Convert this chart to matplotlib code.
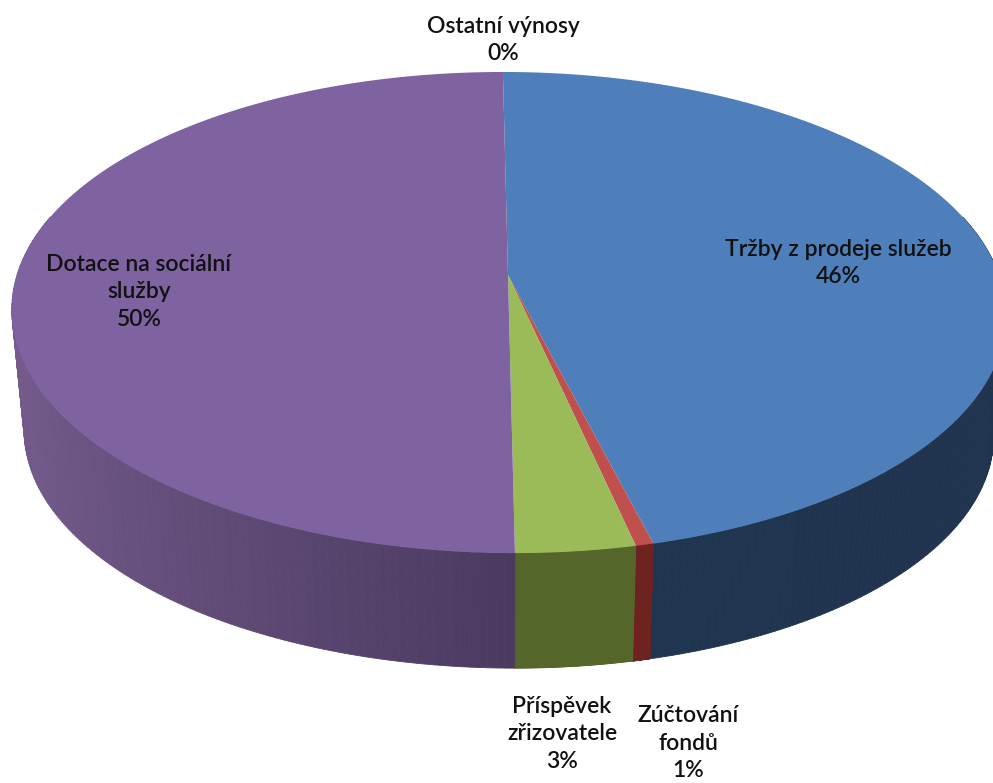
import numpy as np
import matplotlib
matplotlib.use("Agg")
import matplotlib.pyplot as plt
from matplotlib.colors import to_rgb

# values, clockwise from 12 o'clock
categories = ["Tržby z prodeje služeb", "Zúčtování\nfondů", "Příspěvek\nzřizovatele", "Dotace na sociální\nslužby", "Ostatní výnosy"]
values = [46.15, 0.5, 3.35, 50.0, 0.0]
pct_labels = ["46%", "1%", "3%", "50%", "0%"]
top_colors = ["#4f7fba", "#c0504d", "#9bbb59", "#7f62a0", "#4bacc6"]
side_far = ["#20344f", "#6e2320", "#56682c", "#745b8c", "#2b6a7a"]
side_near = ["#1f3550", "#6e2320", "#55662b", "#4a3a60", "#2b6a7a"]
label_xy = [(838, 263), (688, 743), (562, 734), (139, 292), (503, 40)]

# perspective of the tilted disc
cx, cy = 508, 275
k = 0.156
a = 234.7
b = 491
shear = 0.025
depth = 122
shrink = 0.975


def project(theta, scale=1.0, drop=0.0):
    # theta clockwise from the top, radians
    u = np.sin(theta)
    v = np.cos(theta)
    w = 1 + k * v
    y = -a * v / w * scale
    x = b * u / w * scale + shear * y
    return cx + x, cy + y + drop


fig = plt.figure(figsize=(9.93, 7.83), dpi=100)
ax = fig.add_axes([0, 0, 1, 1])
ax.set_xlim(0, 993)
ax.set_ylim(783, 0)
ax.axis("off")

edges = np.radians(np.concatenate([[0], np.cumsum(values)]) * 3.6)

# side walls, only the part facing the viewer, in thin strips for the shading
for i, val in enumerate(values):
    if val == 0:
        continue
    th = np.linspace(edges[i], edges[i + 1], 200)
    c_far = np.array(to_rgb(side_far[i]))
    c_near = np.array(to_rgb(side_near[i]))
    for j in range(len(th) - 1):
        t = th[j:j + 2]
        if np.cos(t[0]) > 0.25 and np.cos(t[1]) > 0.25:
            continue
        x0, y0 = project(t)
        x1, y1 = project(t, shrink, depth)
        # wall gets darker towards the front
        frac = abs(np.sin(t[0]))
        col = c_near + (c_far - c_near) * frac
        ax.fill(np.r_[x0, x1[::-1]], np.r_[y0, y1[::-1]], color=col, lw=0.6, zorder=2)

# top of the pie
for i, val in enumerate(values):
    if val == 0:
        continue
    th = np.linspace(edges[i], edges[i + 1], 300)
    x, y = project(th)
    ax.fill(np.r_[cx, x], np.r_[cy, y], color=top_colors[i], lw=0, zorder=3)

for cat, pct, (lx, ly) in zip(categories, pct_labels, label_xy):
    ax.text(lx, ly, cat + "\n" + pct, ha="center", va="center", fontsize=16.5,
            family="Lato", fontweight=600, color="#111111",
            linespacing=1.36, zorder=5)

fig.savefig("out.png", dpi=100)
